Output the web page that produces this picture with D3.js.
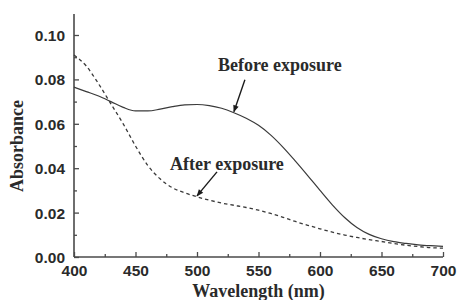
<!DOCTYPE html>
<html>
<head>
<meta charset="utf-8">
<script src="https://cdn.jsdelivr.net/npm/d3@7"></script>
<style>
  body { margin: 0; background: #fff; }
  svg { display: block; }
</style>
</head>
<body>
<div id="chart"></div>
<script>
// wavelength grid (nm) and absorbance
var wavelength = [400, 410, 420, 430, 440, 450, 460, 470, 480, 490, 500, 510, 520, 530, 540, 550,
  560, 570, 580, 590, 600, 610, 620, 630, 640, 650, 660, 670, 680, 690, 700];
var beforeExposure = [0.0765, 0.0745, 0.0725, 0.0700, 0.0674, 0.0658, 0.0658, 0.0666, 0.0677, 0.0685,
  0.0687, 0.0682, 0.0670, 0.0650, 0.0625, 0.0593, 0.0549, 0.0494, 0.0432, 0.0367, 0.0300, 0.0235,
  0.0178, 0.0133, 0.0102, 0.0082, 0.0069, 0.0061, 0.0055, 0.0051, 0.0048];
var afterExposure = [0.0910, 0.0860, 0.0780, 0.0690, 0.0600, 0.0500, 0.0412, 0.0352, 0.0312, 0.0289,
  0.0271, 0.0256, 0.0243, 0.0233, 0.0223, 0.0211, 0.0196, 0.0179, 0.0160, 0.0143, 0.0127, 0.0112,
  0.0099, 0.0088, 0.0078, 0.0070, 0.0061, 0.0053, 0.0047, 0.0042, 0.0040];

var xTicks = [400, 450, 500, 550, 600, 650, 700],
  xMinor = [425, 475, 525, 575, 625, 675],
  yTicks = [0.00, 0.02, 0.04, 0.06, 0.08, 0.10],
  yMinor = [0.01, 0.03, 0.05, 0.07, 0.09];

// annotations: label, series, wavelength of arrow tip
var noteLabels = ["Before exposure", "After exposure"],
  noteSeries = [beforeExposure, afterExposure],
  noteAt = [530, 500];

var W = 460, H = 300;
var axisColor = "#4a4a4a", lineColor = "#3a3a3a", textColor = "#2a2a2a";

var svg = d3.select("#chart").append("svg")
  .attr("width", W)
  .attr("height", H);

var x = d3.scaleLinear().domain([400, 700]).range([74, 443]);
var y = d3.scaleLinear().domain([0, 0.1]).range([257, 35]);

// arrow head
svg.append("defs").append("marker")
  .attr("id", "head")
  .attr("viewBox", "0 0 10 10")
  .attr("refX", 9).attr("refY", 5)
  .attr("markerWidth", 9).attr("markerHeight", 7)
  .attr("markerUnits", "userSpaceOnUse")
  .attr("orient", "auto")
  .append("path")
  .attr("d", "M0,1 L10,5 L0,9 Z")
  .attr("fill", "#1a1a1a");

// axes - ticks point inward
var gx = svg.append("g")
  .attr("transform", "translate(0," + y(0) + ")")
  .call(d3.axisBottom(x).tickValues(xTicks).tickSize(-5).tickPadding(8).tickFormat(d3.format("d")));
var gxm = svg.append("g")
  .attr("transform", "translate(0," + y(0) + ")")
  .call(d3.axisBottom(x).tickValues(xMinor).tickSize(-3).tickFormat(""));
var gy = svg.append("g")
  .attr("transform", "translate(" + x(400) + ",0)")
  .call(d3.axisLeft(y).tickValues(yTicks).tickSize(-5).tickPadding(9).tickFormat(d3.format(".2f")));
var gym = svg.append("g")
  .attr("transform", "translate(" + x(400) + ",0)")
  .call(d3.axisLeft(y).tickValues(yMinor).tickSize(-3).tickFormat(""));

[gx, gxm, gy, gym].forEach(function(g) {
  g.select(".domain").remove();
  g.selectAll("line").attr("stroke", axisColor).attr("stroke-width", 1.3);
  g.selectAll("text")
    .attr("fill", textColor)
    .style("font-family", "'Liberation Sans', Arial, sans-serif")
    .style("font-weight", "bold")
    .style("font-size", "15.5px");
});
gy.selectAll("text").attr("dy", "0.36em");

// axis lines
svg.append("line")
  .attr("x1", x(400)).attr("x2", x(700))
  .attr("y1", y(0)).attr("y2", y(0))
  .attr("stroke", axisColor).attr("stroke-width", 1.6);
svg.append("line")
  .attr("x1", x(400)).attr("x2", x(400))
  .attr("y1", y(0)).attr("y2", y(0.1095))
  .attr("stroke", axisColor).attr("stroke-width", 1.6);

// curves
var line = function(vals) {
  return d3.line()
    .curve(d3.curveMonotoneX)
    .x(function(d, i) { return x(wavelength[i]); })
    .y(function(d) { return y(d); })(vals);
};

svg.append("path")
  .attr("d", line(beforeExposure))
  .attr("fill", "none")
  .attr("stroke", lineColor)
  .attr("stroke-width", 1.2);

svg.append("path")
  .attr("d", line(afterExposure))
  .attr("fill", "none")
  .attr("stroke", lineColor)
  .attr("stroke-width", 1.3)
  .style("stroke-dasharray", ("3.5, 3"));

// axis titles
svg.append("text")
  .attr("text-anchor", "middle")
  .attr("x", (x(400) + x(700)) / 2)
  .attr("y", 297)
  .attr("fill", textColor)
  .style("font-family", "'Liberation Serif', 'Times New Roman', serif")
  .style("font-weight", "bold")
  .style("font-size", "18px")
  .text("Wavelength (nm)");

svg.append("text")
  .attr("text-anchor", "middle")
  .attr("transform", "translate(23," + 146 + ")rotate(-90)")
  .attr("fill", textColor)
  .style("font-family", "'Liberation Serif', 'Times New Roman', serif")
  .style("font-weight", "bold")
  .style("font-size", "18px")
  .text("Absorbance");

// annotations with arrows
var tailOff = [[11, -33], [20, -25]],
  textOff = [[-16, -42], [-27, -27]];

noteLabels.forEach(function(lbl, k) {
  var w = noteAt[k];
  var val = noteSeries[k][wavelength.indexOf(w)];
  var tx = x(w), ty = y(val);
  svg.append("line")
    .attr("x1", tx + tailOff[k][0]).attr("y1", ty + tailOff[k][1])
    .attr("x2", tx).attr("y2", ty - 1)
    .attr("stroke", "#1a1a1a")
    .attr("stroke-width", 1.4)
    .attr("marker-end", "url(#head)");
  svg.append("text")
    .attr("x", tx + textOff[k][0])
    .attr("y", ty + textOff[k][1])
    .attr("fill", textColor)
    .style("font-family", "'Liberation Serif', 'Times New Roman', serif")
    .style("font-weight", "bold")
    .style("font-size", "18px")
    .text(lbl);
});
</script>
</body>
</html>
